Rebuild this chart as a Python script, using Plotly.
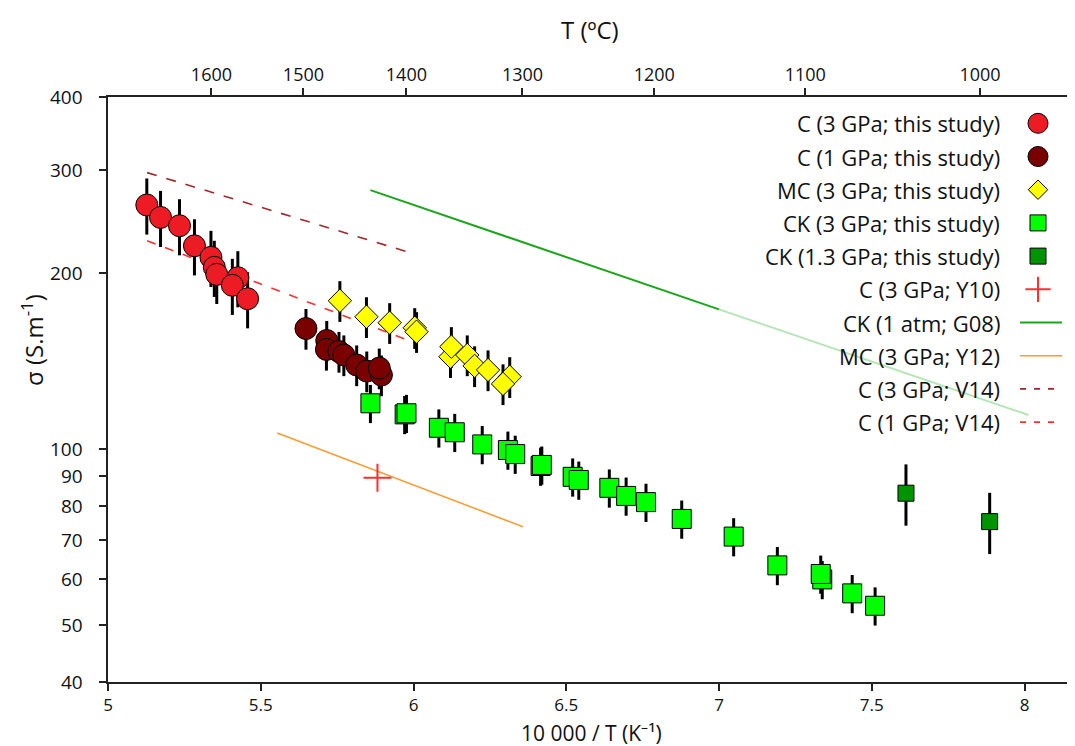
import plotly.graph_objects as go
import math

# ---------------- data ----------------
c3_x = [5.127, 5.172, 5.234, 5.283, 5.337, 5.348, 5.356, 5.425, 5.407, 5.457]
c3_y = [261.5, 249, 241, 222.7, 212.8, 204.6, 199, 196.4, 190.6, 180.8]

c1_x = [5.648, 5.716, 5.715, 5.756, 5.772, 5.814, 5.847, 5.895, 5.888]
c1_y = [160.8, 153.4, 148.1, 146.9, 144.9, 139.3, 136.0, 133.9, 137.6]

mc_x = [5.759, 5.846, 5.922, 6.004, 6.010, 6.121, 6.124, 6.176, 6.200, 6.244, 6.315, 6.293]
mc_y = [179.4, 168.4, 164.5, 161.3, 158.8, 143.9, 149.7, 144.9, 138.8, 136.6, 133.0, 129.3]

ck3_x = [5.859, 5.971, 5.977, 6.083, 6.135, 6.225, 6.309, 6.333, 6.416, 6.420, 6.521,
         6.541, 6.641, 6.696, 6.761, 6.878, 7.048, 7.191, 7.338, 7.333, 7.436, 7.511]
ck3_y = [119.8, 114.7, 115.2, 108.8, 106.9, 101.9, 99.7, 98.1, 93.6, 94.0, 89.7,
         88.6, 85.9, 83.2, 81.2, 76.0, 70.9, 63.3, 59.9, 61.2, 56.7, 54.0]

ck13_x = [7.612, 7.886]
ck13_y = [84.1, 75.2]

y10_x = [5.882]
y10_y = [89.4]

g08_x = [5.859, 7.0]
g08_y = [277.3, 173.4]
g08_ext_x = [7.0, 8.013]
g08_ext_y = [173.4, 114.4]

y12_x = [5.554, 6.358]
y12_y = [106.6, 73.7]

v14_3_x = [5.128, 6.004]
v14_3_y = [297.0, 215.6]
v14_1_x = [5.128, 6.006]
v14_1_y = [227.2, 151.9]

y_ticks = [40, 50, 60, 70, 80, 90, 100, 200, 300, 400]
x_ticks = [5, 5.5, 6, 6.5, 7, 7.5, 8]
t_ticks_c = [1600, 1500, 1400, 1300, 1200, 1100, 1000]

legend_labels = ["C (3 GPa; this study)", "C (1 GPa; this study)", "MC (3 GPa; this study)",
                 "CK (3 GPa; this study)", "CK (1.3 GPa; this study)", "C (3 GPa; Y10)",
                 "CK (1 atm; G08)", "MC (3 GPa; Y12)", "C (3 GPa; V14)", "C (1 GPa; V14)"]

# ---------------- styling ----------------
FONT = "Open Sans"
RED = "#ED1C24"
DRED = "#7A0000"
YEL = "#FFFF00"
GRN = "#00FF00"
DGRN = "#009400"
G08C = "#1AA51A"
ORG = "#FF9A2E"
V3C = "#A0282A"
V1C = "#FF3030"
AX = "#222222"
TXT = "#111111"

# page body has an 8px margin: lay out the figure so the plot area lands at
# x 108..1073, y 97..682 of the screenshot
BODY = 8
W, H = 1075 - BODY, 746 - BODY
L, R, T, B = 108 - BODY, 2, 97 - BODY, 64
PW = W - L - R
PH = H - T - B
x_max = 5 + PW / 305.5

fig = go.Figure()

def err(pct):
    return dict(type="percent", value=pct, color="black", thickness=3, width=0)

def lmark(sym, col, size, lw=1, lcol="black"):
    return dict(symbol=sym, color=col, size=size, line=dict(color=lcol, width=lw))

# reference lines
fig.add_trace(go.Scatter(x=g08_ext_x, y=g08_ext_y, mode="lines",
                         line=dict(color="rgba(40,180,40,0.35)", width=2)))
fig.add_trace(go.Scatter(x=g08_x, y=g08_y, mode="lines", line=dict(color=G08C, width=2)))
fig.add_trace(go.Scatter(x=y12_x, y=y12_y, mode="lines", line=dict(color=ORG, width=1.5)))
fig.add_trace(go.Scatter(x=v14_3_x, y=v14_3_y, mode="lines",
                         line=dict(color=V3C, width=1.6, dash="10px,10px")))
fig.add_trace(go.Scatter(x=v14_1_x, y=v14_1_y, mode="lines",
                         line=dict(color=V1C, width=1.6, dash="9px,10px")))

# data points
fig.add_trace(go.Scatter(x=c3_x, y=c3_y, mode="markers", error_y=err(11),
                         marker=lmark("circle", RED, 22)))
fig.add_trace(go.Scatter(x=c1_x, y=c1_y, mode="markers", error_y=err(8),
                         marker=lmark("circle", DRED, 22)))
fig.add_trace(go.Scatter(x=mc_x, y=mc_y, mode="markers", error_y=err(8),
                         marker=lmark("diamond", YEL, 18)))
fig.add_trace(go.Scatter(x=ck3_x, y=ck3_y, mode="markers", error_y=err(7.5),
                         marker=lmark("square", GRN, 19)))
fig.add_trace(go.Scatter(x=ck13_x, y=ck13_y, mode="markers", error_y=err(12),
                         marker=lmark("square", DGRN, 16)))
fig.add_trace(go.Scatter(x=y10_x, y=y10_y, mode="markers",
                         marker=dict(symbol="cross-thin", size=20, color=V1C,
                                     line=dict(color=V1C, width=2))))

# dummy trace to activate top axis
fig.add_trace(go.Scatter(x=[None], y=[None], xaxis="x2", yaxis="y", mode="markers",
                         hoverinfo="skip"))

# ---------------- custom legend (symbol right of text) ----------------
# positions below are in screenshot pixels
row0, step = 123.3, 33.2
sym_px = 1038
txt_px = 1002
line_px = (1020, 1062)

def px2x(px):
    return (px - 108) / PW

def py2y(py):
    return 1 - (py - 97) / PH

leg_marks = [
    lmark("circle", RED, 20), lmark("circle", DRED, 20), lmark("diamond", YEL, 15),
    lmark("square", GRN, 16), lmark("square", DGRN, 16),
    dict(symbol="cross-thin", size=18, color=V1C, line=dict(color=V1C, width=2)),
]
leg_lines = [dict(color=G08C, width=2), dict(color=ORG, width=1.5),
             dict(color=V3C, width=1.6, dash="6px,8px"), dict(color=V1C, width=1.6, dash="6px,8px")]

for i, lab in enumerate(legend_labels):
    py = row0 + i * step
    fig.add_annotation(x=px2x(txt_px), y=py2y(py), xref="paper", yref="paper",
                       text=lab, showarrow=False, xanchor="right", yanchor="middle",
                       font=dict(family=FONT, size=22, color=TXT))
    if i < len(leg_marks):
        fig.add_trace(go.Scatter(x=[px2x(sym_px)], y=[py2y(py)], xaxis="x3", yaxis="y3",
                                 mode="markers", marker=leg_marks[i], hoverinfo="skip"))
    else:
        fig.add_trace(go.Scatter(x=[px2x(line_px[0]), px2x(line_px[1])],
                                 y=[py2y(py), py2y(py)], xaxis="x3", yaxis="y3",
                                 mode="lines", line=leg_lines[i - len(leg_marks)],
                                 hoverinfo="skip"))

# y tick labels placed on the log axis (right edge at x = 84 px)
for v in y_ticks:
    fig.add_annotation(x=px2x(85), y=math.log10(v), xref="paper", yref="y",
                       text=str(v), showarrow=False, xanchor="right", yanchor="middle",
                       font=dict(family=FONT, size=19, color=TXT))

# axis titles as annotations
fig.add_annotation(x=px2x(591), y=py2y(733), xref="paper", yref="paper",
                   text="10 000 / T (K⁻¹)", showarrow=False,
                   xanchor="center", yanchor="middle", font=dict(family=FONT, size=21, color=TXT))
fig.add_annotation(x=px2x(590), y=py2y(30), xref="paper", yref="paper",
                   text="T (ºC)", showarrow=False,
                   xanchor="center", yanchor="middle", font=dict(family=FONT, size=24, color=TXT))
fig.add_annotation(x=px2x(32), y=py2y(340), xref="paper", yref="paper",
                   text="σ (S.m<sup>-1</sup>)", showarrow=False, textangle=-90,
                   xanchor="center", yanchor="middle", font=dict(family=FONT, size=24, color=TXT))

# ---------------- axes ----------------
tick_font = dict(family=FONT, size=18, color=TXT)

t_pos = [10000 / (t + 273.15) for t in t_ticks_c]

common = dict(showgrid=False, zeroline=False, showline=True, linecolor=AX, linewidth=2,
              ticks="outside", ticklen=7, tickwidth=2, tickcolor=AX,
              tickfont=tick_font, automargin=False)

fig.update_layout(
    width=W, height=H,
    margin=dict(l=L, r=R, t=T, b=B, autoexpand=False),
    paper_bgcolor="white", plot_bgcolor="white",
    showlegend=False,
    font=dict(family=FONT),
    xaxis=dict(range=[5, x_max], tickvals=x_ticks, ticktext=[str(v) for v in x_ticks],
               **{**common, "tickfont": dict(family=FONT, size=17, color=TXT)}),
    xaxis2=dict(range=[5, x_max], overlaying="x", side="top", anchor="y",
                tickvals=t_pos, ticktext=[str(t) for t in t_ticks_c], **common),
    yaxis=dict(type="log", range=[math.log10(40), math.log10(400)],
               tickvals=y_ticks, showticklabels=False, **common),
    xaxis3=dict(range=[0, 1], overlaying="x", anchor="y3", visible=False),
    yaxis3=dict(range=[0, 1], overlaying="y", anchor="x3", visible=False),
)

fig.write_html("out.html")
